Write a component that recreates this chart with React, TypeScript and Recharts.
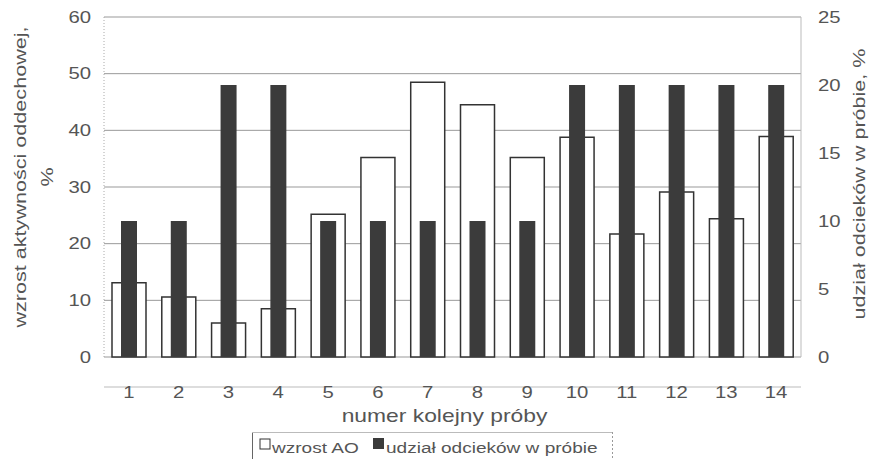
import React from 'react';
import { BarChart, Bar, XAxis, YAxis, CartesianGrid } from 'recharts';

// sample numbers on the category axis
const samples = ['1', '2', '3', '4', '5', '6', '7', '8', '9', '10', '11', '12', '13', '14'];
// respiratory activity increase, % (left axis)
const aoIncrease = [13.1, 10.6, 6.0, 8.5, 25.2, 35.2, 48.5, 44.5, 35.2, 38.8, 21.7, 29.1, 24.4, 38.9];
// leachate share in the sample, % (right axis)
const leachateShare = [10, 10, 20, 20, 10, 10, 10, 10, 10, 20, 20, 20, 20, 20];

const leftTicks = [0, 10, 20, 30, 40, 50, 60];
const rightTicks = [0, 5, 10, 15, 20, 25];

const seriesNames = ['wzrost AO', 'udział odcieków w próbie'];
const leftTitle = ['wzrost aktywności oddechowej,', '%'];
const rightTitle = 'udział odcieków w próbie, %';
const xTitle = 'numer kolejny próby';

const data = samples.map((nr, i) => ({ nr, ao: aoIncrease[i], udzial: leachateShare[i] }));

const INK = '#555';
const BAR_DARK = '#3b3b3b';
const FONT = '"Liberation Sans", Arial, sans-serif';
// the type in this figure is set wide, so every label gets the same horizontal stretch
const STRETCH = 1.27;

type StretchedProps = {
  x: number;
  y: number;
  size: number;
  anchor?: 'start' | 'middle' | 'end';
  angle?: number;
  children: React.ReactNode;
};

function Stretched({ x, y, size, anchor = 'middle', angle = 0, children }: StretchedProps) {
  return (
    <g transform={`translate(${x},${y}) rotate(${angle}) scale(${STRETCH},1)`}>
      <text x={0} y={0} textAnchor={anchor} fontSize={size} fill={INK} fontFamily={FONT}>
        {children}
      </text>
    </g>
  );
}

const LeftTick = (p: any) => (
  <Stretched x={p.x} y={p.y + 5.7} size={16} anchor="end">
    {p.payload.value}
  </Stretched>
);

const RightTick = (p: any) => (
  <Stretched x={p.x} y={p.y + 5.7} size={16} anchor="start">
    {p.payload.value}
  </Stretched>
);

const BottomTick = (p: any) => (
  <Stretched x={p.x} y={p.y - 18} size={16}>
    {p.payload.value}
  </Stretched>
);

const LeftTitle = (p: any) => {
  const { x, y, height } = p.viewBox;
  const cy = y + height / 2 - 10;
  return (
    <g>
      <Stretched x={x + 26} y={cy} size={17} angle={-90}>
        {leftTitle[0]}
      </Stretched>
      <Stretched x={x + 53} y={cy} size={17} angle={-90}>
        {leftTitle[1]}
      </Stretched>
    </g>
  );
};

const RightTitle = (p: any) => {
  const { x, y, height } = p.viewBox;
  return (
    <Stretched x={x + 64} y={y + height / 2 - 3} size={17} angle={-90}>
      {rightTitle}
    </Stretched>
  );
};

const BottomTitle = (p: any) => {
  const { x, y, width } = p.viewBox;
  return (
    <Stretched x={x + width / 2 - 8} y={y + 35} size={18}>
      {xTitle}
    </Stretched>
  );
};

function LegendBox() {
  return (
    <svg
      width={362}
      height={30}
      style={{ position: 'absolute', left: 252, top: 432, overflow: 'visible' }}
    >
      <line x1={0.5} y1={0} x2={0.5} y2={30} stroke="#666" />
      <line x1={0} y1={0.5} x2={361} y2={0.5} stroke="#bbb" />
      <line x1={360.5} y1={0} x2={360.5} y2={30} stroke="#999" strokeDasharray="2 2" />
      <rect x={8} y={7} width={10} height={10} fill="#fff" stroke="#333" />
      <Stretched x={20} y={21} size={15} anchor="start">
        {seriesNames[0]}
      </Stretched>
      <rect x={121} y={6} width={11} height={11} fill={BAR_DARK} />
      <Stretched x={134} y={21} size={15} anchor="start">
        {seriesNames[1]}
      </Stretched>
    </svg>
  );
}

export default function App() {
  return (
    <div style={{ position: 'absolute', left: 0, top: 0, width: 871, height: 459, background: '#fff' }}>
      <BarChart
        width={871}
        height={459}
        data={data}
        margin={{ top: 17, right: 0, bottom: 62, left: 0 }}
      >
        <CartesianGrid vertical={false} xAxisId="main" yAxisId="left" stroke="#999" />
        <XAxis
          xAxisId="main"
          dataKey="nr"
          height={40}
          tickLine={false}
          tickMargin={23}
          axisLine={{ stroke: '#bbb' }}
          tick={BottomTick}
          interval={0}
          label={<BottomTitle />}
        />
        <XAxis xAxisId="back" dataKey="nr" hide />
        <YAxis
          yAxisId="left"
          width={104}
          domain={[0, 60]}
          ticks={leftTicks}
          tickLine={false}
          tickMargin={7}
          axisLine={{ stroke: '#aaa', strokeDasharray: '1 2' }}
          tick={LeftTick}
          label={<LeftTitle />}
        />
        <YAxis
          yAxisId="right"
          orientation="right"
          width={70}
          domain={[0, 25]}
          ticks={rightTicks}
          tickLine={false}
          tickMargin={11}
          axisLine={{ stroke: '#bbb' }}
          tick={RightTick}
          label={<RightTitle />}
        />
        <Bar
          xAxisId="main"
          yAxisId="left"
          dataKey="ao"
          name={seriesNames[0]}
          barSize={34}
          fill="#fff"
          stroke="#333"
          strokeWidth={1.5}
          isAnimationActive={false}
        />
        <Bar
          xAxisId="back"
          yAxisId="right"
          dataKey="udzial"
          name={seriesNames[1]}
          barSize={16}
          fill={BAR_DARK}
          isAnimationActive={false}
        />
      </BarChart>
      <LegendBox />
    </div>
  );
}
